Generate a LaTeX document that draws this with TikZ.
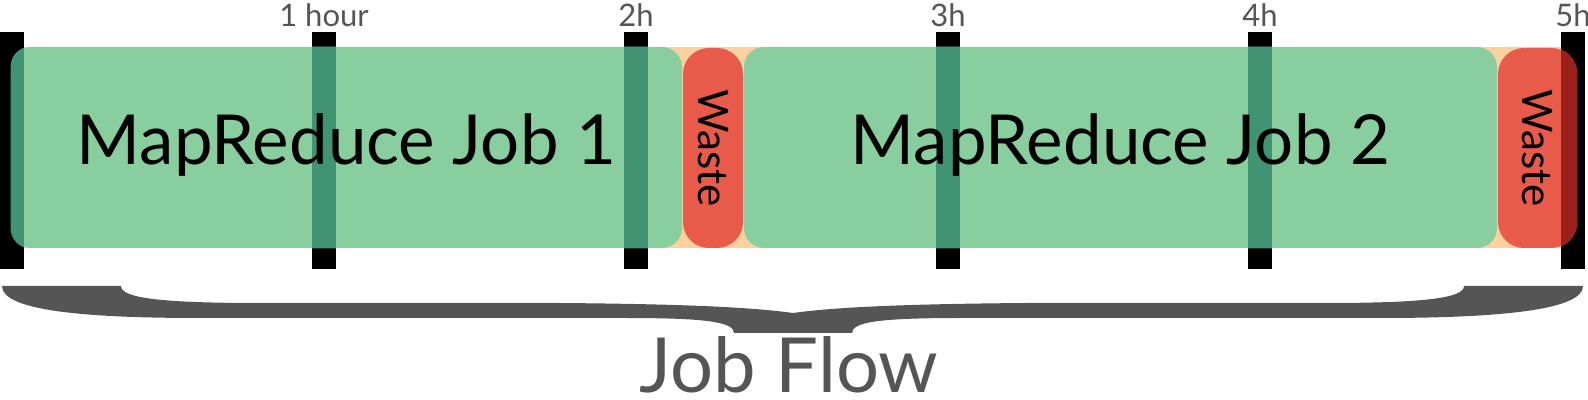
\documentclass[tikz,border=0pt]{standalone}
\usepackage{fontspec}
\setmainfont{Lato}
\usetikzlibrary{positioning}
\definecolor{jobgreen}{HTML}{88CE9E}
\definecolor{jobshade}{HTML}{409373}
\definecolor{wastered}{HTML}{E85A4A}
\definecolor{wasteshade}{HTML}{9B1F1A}
\definecolor{slackpeach}{HTML}{FED09E}
\definecolor{inkgray}{HTML}{555555}

\begin{document}
\begin{tikzpicture}[x=0.5pt,y=-0.5pt,
			hourbar/.style={fill=black,inner sep=0pt,minimum width=12pt,minimum height=118.5pt},
			hourlbl/.style={text=inkgray,font=\fontsize{15.5}{18}\selectfont,anchor=base,inner sep=0pt},
			jobbox/.style={fill=jobgreen,rounded corners=10pt,inner sep=0pt,minimum height=100.5pt},
			wastebox/.style={fill=wastered,rounded corners=13pt,inner sep=0pt,minimum height=100pt},
			joblbl/.style={font=\fontsize{34.5}{40}\selectfont},
			wastelbl/.style={rotate=-90,font=\fontsize{21}{24}\selectfont}
			]
			\useasboundingbox (0,0) rectangle (1588,400);
			% hour marks
			\foreach \h/\x in {0/12,1/324,2/636,3/948,4/1260,5/1573}
				\node[hourbar] (hr\h) at (\x,150.5) {};
			\node[hourlbl] (lbl1) at ([yshift=2.5pt]hr1.north) {1 hour};
			\node[hourlbl] (lbl2) at ([yshift=2.5pt]hr2.north) {2h};
			\node[hourlbl] (lbl3) at ([yshift=2.5pt]hr3.north) {3h};
			\node[hourlbl] (lbl4) at ([yshift=2.5pt]hr4.north) {4h};
			\node[hourlbl] (lbl5) at ([yshift=2.5pt]hr5.north) {5h};
			% lane and jobs
			\fill[slackpeach] (24,47) rectangle (1561,248);
			\node[jobbox,minimum width=335.5pt] (job1) at (346.5,147.5) {};
			\node[wastebox,minimum width=30pt] (waste1) at (713,148) {};
			\node[jobbox,minimum width=376.5pt] (job2) at (1120.5,147.5) {};
			\node[wastebox,minimum width=39.5pt] (waste2) at (1537.5,148) {};
			\begin{scope}
				\clip[rounded corners=10pt] (job1.south west) rectangle (job1.north east);
				\foreach \h in {0,1,2}
					\fill[jobshade] (hr\h.south west) rectangle (hr\h.north east);
			\end{scope}
			\begin{scope}
				\clip[rounded corners=10pt] (job2.south west) rectangle (job2.north east);
				\foreach \h in {3,4}
					\fill[jobshade] (hr\h.south west) rectangle (hr\h.north east);
			\end{scope}
			\begin{scope}
				\clip[rounded corners=13pt] (waste2.south west) rectangle (waste2.north east);
				\fill[wasteshade] (hr5.south west) rectangle (hr5.north east);
			\end{scope}
			\node[joblbl] (job1txt) at ([yshift=1pt]job1) {MapReduce Job 1};
			\node[joblbl] (job2txt) at ([yshift=1pt]job2) {MapReduce Job 2};
			\node[wastelbl] (waste1txt) at (waste1) {Waste};
			\node[wastelbl] (waste2txt) at (waste2) {Waste};
			% brace
			\fill[inkgray] (2,286) -- (121,286)
				.. controls (121,298) and (160,303) .. (260,303)
				-- (560,303) .. controls (680,304) and (750,307) .. (793,313)
				.. controls (836,307) and (906,304) .. (1026,303)
				-- (1325,303) .. controls (1425,303) and (1464,298) .. (1464,286)
				-- (1583,286)
				.. controls (1583,310) and (1500,318) .. (1380,318)
				-- (960,318) .. controls (880,318) and (852,322) .. (852,333)
				-- (734,333) .. controls (734,322) and (706,318) .. (626,318)
				-- (200,318) .. controls (80,318) and (2,310) .. (2,286) -- cycle;
			\coordinate (tip) at (793,333);
			\node[text=inkgray,font=\fontsize{38}{42}\selectfont,anchor=base,inner sep=0pt] (flow) at ([xshift=-2pt]tip |- 0,392) {Job Flow};
		\end{tikzpicture}
\end{document}
